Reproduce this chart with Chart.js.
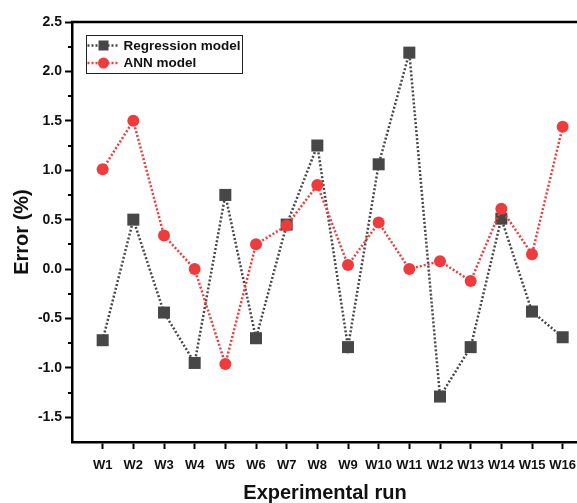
<!DOCTYPE html>
<html>
<head>
<meta charset="utf-8">
<script src="https://cdn.jsdelivr.net/npm/chart.js@4.4.1/dist/chart.umd.min.js"></script>
<style>
    html, body { margin: 0; padding: 0; background: #fff; overflow: hidden; }
    #wrap { width: 600px; height: 503px; }
</style>
</head>
<body>
<div id="wrap"><canvas id="canvas"></canvas></div>
<script>
var runs = ['W1', 'W2', 'W3', 'W4', 'W5', 'W6', 'W7', 'W8', 'W9', 'W10', 'W11', 'W12', 'W13', 'W14', 'W15', 'W16'];
var regression = [-0.72, 0.5, -0.44, -0.95, 0.75, -0.7, 0.45, 1.25, -0.79, 1.06, 2.19, -1.29, -0.79, 0.51, -0.43, -0.69];
var ann = [1.01, 1.5, 0.34, 0.0, -0.96, 0.25, 0.44, 0.85, 0.04, 0.47, 0.0, 0.08, -0.12, 0.61, 0.15, 1.44];
var yMajorTicks = [-1.5, -1.0, -0.5, 0.0, 0.5, 1.0, 1.5, 2.0, 2.5];
var yMinorTicks = [-1.25, -0.75, -0.25, 0.25, 0.75, 1.25, 1.75, 2.25];

var grey = '#474747';
var red = '#ef3b3b';
var fontFamily = '"Liberation Sans", Arial, sans-serif';

function toPoints(values) {
    return values.map((v, i) => ({ x: i + 1, y: v }));
}

// frame line on top, minor ticks on the y axis and the boxed legend
var decorations = {
    id: 'decorations',
    afterDraw(chart) {
        var ctx = chart.ctx;
        var area = chart.chartArea;
        var y = chart.scales.y;

        ctx.save();
        ctx.strokeStyle = '#000';
        ctx.lineWidth = 2.5;
        ctx.beginPath();
        ctx.moveTo(area.left - 1, area.top);
        ctx.lineTo(chart.width, area.top);
        ctx.stroke();

        ctx.lineWidth = 2;
        yMinorTicks.forEach(v => {
            var py = Math.round(y.getPixelForValue(v));
            ctx.beginPath();
            ctx.moveTo(area.left - 4, py);
            ctx.lineTo(area.left, py);
            ctx.stroke();
        });

        // legend
        var bx = 86.5, by = 35.5, bw = 156, bh = 38;
        ctx.lineWidth = 1;
        ctx.strokeStyle = '#222';
        ctx.fillStyle = '#fff';
        ctx.fillRect(bx, by, bw, bh);
        ctx.strokeRect(bx, by, bw, bh);

        chart.data.datasets.slice().sort((a, b) => a.legendIndex - b.legendIndex).forEach((ds, i) => {
            var cy = by + 10 + i * 17.5;
            ctx.strokeStyle = ds.borderColor;
            ctx.lineWidth = 2.5;
            ctx.setLineDash([2, 2]);
            ctx.beginPath();
            ctx.moveTo(bx + 1, cy);
            ctx.lineTo(bx + 33, cy);
            ctx.stroke();
            ctx.setLineDash([]);
            ctx.fillStyle = ds.borderColor;
            if (ds.pointStyle === 'rect') {
                ctx.fillRect(bx + 12, cy - 5, 10, 10);
            } else {
                ctx.beginPath();
                ctx.arc(bx + 17, cy, 5.5, 0, Math.PI * 2);
                ctx.fill();
            }
            ctx.fillStyle = '#111';
            ctx.font = 'bold 13.5px ' + fontFamily;
            ctx.textBaseline = 'middle';
            ctx.textAlign = 'left';
            ctx.fillText(ds.label, bx + 37, cy + 0.5);
        });
        ctx.restore();
    }
};

var ctx = document.getElementById('canvas').getContext('2d');
var chart = new Chart(ctx, {
    type: 'line',
    data: {
        datasets: [{
            label: 'Regression model',
            legendIndex: 0,
            order: 1,
            data: toPoints(regression),
            borderColor: grey,
            backgroundColor: grey,
            borderWidth: 2.5,
            borderDash: [2, 2],
            pointStyle: 'rect',
            pointRadius: 8.5,
            pointBorderWidth: 0,
            fill: false,
        }, {
            label: 'ANN model',
            legendIndex: 1,
            order: 0,
            data: toPoints(ann),
            borderColor: red,
            backgroundColor: red,
            borderWidth: 2.5,
            borderDash: [2, 2],
            pointStyle: 'circle',
            pointRadius: 6,
            pointBorderWidth: 0,
            fill: false,
        }]
    },
    options: {
        responsive: true,
        maintainAspectRatio: false,
        animation: false,
        layout: { padding: { top: 22, right: 22, left: 0, bottom: 0 } },
        plugins: {
            legend: { display: false },
            tooltip: { enabled: false },
        },
        scales: {
            x: {
                type: 'linear',
                min: 0,
                max: 16.5,
                afterBuildTicks: scale => { scale.ticks = runs.map((r, i) => ({ value: i + 1 })); },
                afterFit: scale => { scale.height = 61; },
                ticks: {
                    callback: (value) => runs[value - 1] || '',
                    autoSkip: false,
                    maxRotation: 0,
                    color: '#111',
                    padding: 9,
                    font: { family: fontFamily, size: 13, weight: 'bold' },
                },
                grid: {
                    drawOnChartArea: false,
                    tickLength: 7,
                    tickWidth: 2,
                    tickColor: '#000',
                },
                border: { color: '#000', width: 2.5 },
                title: {
                    display: true,
                    text: 'Experimental run',
                    color: '#111',
                    padding: { top: 0, bottom: 0 },
                    font: { family: fontFamily, size: 20, weight: 'bold', lineHeight: 1 },
                },
            },
            y: {
                min: -1.75,
                max: 2.5,
                afterBuildTicks: scale => { scale.ticks = yMajorTicks.map(v => ({ value: v })); },
                afterFit: scale => { scale.width = 72; },
                ticks: {
                    callback: (value) => value.toFixed(1),
                    color: '#111',
                    padding: 3,
                    font: { family: fontFamily, size: 14, weight: 'bold' },
                },
                grid: {
                    drawOnChartArea: false,
                    tickLength: 7,
                    tickWidth: 2,
                    tickColor: '#000',
                },
                border: { color: '#000', width: 2.5 },
                title: {
                    display: true,
                    text: 'Error (%)',
                    color: '#111',
                    padding: { top: 10, bottom: 0 },
                    font: { family: fontFamily, size: 20, weight: 'bold', lineHeight: 1.2 },
                },
            },
        },
    },
    plugins: [decorations],
});
</script>
</body>
</html>
